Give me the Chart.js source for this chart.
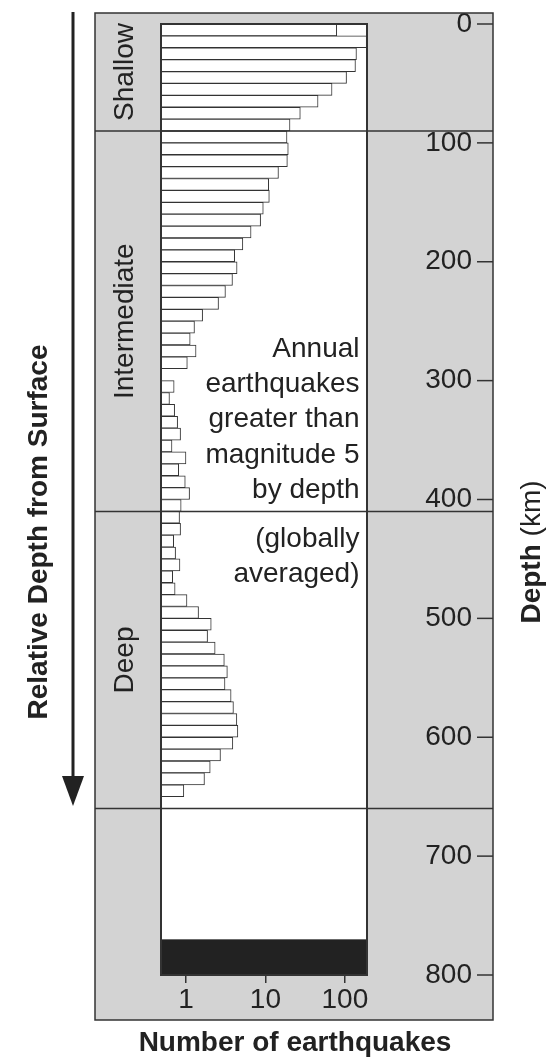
<!DOCTYPE html>
<html>
<head>
<meta charset="utf-8">
<script src="https://cdn.jsdelivr.net/npm/chart.js@4.4.1/dist/chart.umd.min.js"></script>
<style>
  html, body { margin: 0; padding: 0; background: #fff; }
  #wrap { width: 550px; height: 1057px; position: relative; }
</style>
</head>
<body>
<div id="wrap"><canvas id="myChart"></canvas></div>
<script>
// depth bins (top of each 10 km bin), the 290 km bin has no bar
const BIN_TOPS = [
  0, 10, 20, 30, 40, 50, 60, 70, 80,
  90, 100, 110, 120, 130, 140, 150, 160, 170, 180, 190, 200, 210, 220, 230,
  240, 250, 260, 270, 280, 300, 310, 320, 330, 340, 350, 360, 370, 380, 390, 400,
  410, 420, 430, 440, 450, 460, 470, 480, 490, 500, 510, 520, 530, 540, 550,
  560, 570, 580, 590, 600, 610, 620, 630, 640
];
const COUNTS = [
  79, 188, 140, 136, 105, 69, 46, 27.5, 20.4,
  18.7, 19.4, 18.9, 14.6, 11.0, 11.2, 9.4, 8.7, 6.6, 5.2, 4.1, 4.4, 3.85, 3.14, 2.57,
  1.62, 1.28, 1.13, 1.34, 1.04, 0.71, 0.62, 0.72, 0.785, 0.855, 0.667, 1.0, 0.81, 0.98, 1.11, 0.87,
  0.83, 0.855, 0.70, 0.74, 0.84, 0.68, 0.73, 1.03, 1.44, 2.08, 1.87, 2.33, 3.04, 3.32, 3.10,
  3.70, 3.96, 4.37, 4.50, 3.89, 2.72, 2.02, 1.71, 0.94
];
const BIN_SIZE = 10;
const DEPTH_TICKS = [0, 100, 200, 300, 400, 500, 600, 700, 800];
const COUNT_TICKS = [1, 10, 100];
const ZONE_NAMES = ["Shallow", "Intermediate", "Deep"];
const ZONE_EDGES = [0, 90, 410, 660];
const NO_DATA_BAND = [770, 800];
const NOTE = ["Annual", "earthquakes", "greater than", "magnitude 5", "by depth"];
const NOTE2 = ["(globally", "averaged)"];

const FONT = '"Liberation Sans", Arial, Helvetica, sans-serif';
const INK = "#222";
const LINE = "#333";
const PANEL = "#d3d3d3";
const BOX = { left: 95, top: 13, right: 493, bottom: 1020 };

Chart.defaults.font.family = FONT;
Chart.defaults.color = INK;

function seg(ctx, x1, y1, x2, y2) {
  ctx.beginPath();
  ctx.moveTo(x1, y1);
  ctx.lineTo(x2, y2);
  ctx.stroke();
}

function vtext(ctx, text, x, y, font) {
  ctx.save();
  ctx.translate(x, y);
  ctx.rotate(-Math.PI / 2);
  ctx.font = font;
  ctx.textAlign = "center";
  ctx.textBaseline = "alphabetic";
  ctx.fillText(text, 0, 0);
  ctx.restore();
}

const frame = {
  id: "frame",
  beforeDraw(chart) {
    const { ctx, chartArea: a } = chart;
    ctx.save();
    ctx.fillStyle = PANEL;
    ctx.fillRect(BOX.left, BOX.top, BOX.right - BOX.left, BOX.bottom - BOX.top);
    ctx.fillStyle = "#fff";
    ctx.fillRect(a.left, a.top, a.right - a.left, a.bottom - a.top);
    ctx.restore();
  },
  afterDraw(chart) {
    const { ctx, chartArea: a, scales: { y } } = chart;
    ctx.save();

    // no-data band at the bottom
    const b0 = y.getPixelForValue(NO_DATA_BAND[0]);
    const b1 = y.getPixelForValue(NO_DATA_BAND[1]);
    ctx.fillStyle = INK;
    ctx.fillRect(a.left, b0, a.right - a.left, b1 - b0);

    // zone separators across the whole panel
    ctx.strokeStyle = LINE;
    ctx.lineWidth = 1.5;
    ZONE_EDGES.slice(1).forEach(d => {
      const py = y.getPixelForValue(d);
      seg(ctx, BOX.left, py, BOX.right, py);
    });

    ctx.lineWidth = 2;
    ctx.strokeRect(a.left, a.top, a.right - a.left, a.bottom - a.top);
    ctx.lineWidth = 1.5;
    ctx.strokeRect(BOX.left, BOX.top, BOX.right - BOX.left, BOX.bottom - BOX.top);

    // depth tick marks on the outer edge
    y.ticks.forEach(t => {
      const py = y.getPixelForValue(t.value);
      seg(ctx, BOX.right - 16, py, BOX.right, py);
    });

    ctx.fillStyle = INK;
    // zone names
    ZONE_NAMES.forEach((name, i) => {
      const top = i === 0 ? BOX.top : y.getPixelForValue(ZONE_EDGES[i]);
      const bot = y.getPixelForValue(ZONE_EDGES[i + 1]);
      vtext(ctx, name, 132.5, (top + bot) / 2, "28px " + FONT);
    });

    // note
    ctx.font = "28px " + FONT;
    ctx.textAlign = "right";
    ctx.textBaseline = "alphabetic";
    NOTE.forEach((s, i) => ctx.fillText(s, 359.5, 356.7 + i * 35.3));
    NOTE2.forEach((s, i) => ctx.fillText(s, 359.5, 546.7 + i * 35.3));

    // titles
    ctx.font = "bold 28px " + FONT;
    ctx.textAlign = "center";
    ctx.fillText("Number of earthquakes", 295, 1051);
    vtext(ctx, "Relative Depth from Surface", 47, 532, "bold 28px " + FONT);

    ctx.save();
    ctx.translate(540, 552);
    ctx.rotate(-Math.PI / 2);
    ctx.textAlign = "left";
    ctx.font = "bold 28px " + FONT;
    const w1 = ctx.measureText("Depth").width;
    ctx.font = "28px " + FONT;
    const w2 = ctx.measureText(" (km)").width;
    const x0 = -(w1 + w2) / 2;
    ctx.font = "bold 28px " + FONT;
    ctx.fillText("Depth", x0, 0);
    ctx.font = "28px " + FONT;
    ctx.fillText(" (km)", x0 + w1, 0);
    ctx.restore();

    // arrow
    ctx.strokeStyle = INK;
    ctx.lineWidth = 3;
    seg(ctx, 73, 12, 73, 780);
    ctx.beginPath();
    ctx.moveTo(62, 776);
    ctx.lineTo(84, 776);
    ctx.lineTo(73, 806);
    ctx.closePath();
    ctx.fill();

    ctx.restore();
  }
};

const data = {
  datasets: [{
    data: BIN_TOPS.map((d, i) => ({ x: COUNTS[i], y: d + BIN_SIZE / 2 })),
    backgroundColor: "#fff",
    borderColor: LINE,
    borderWidth: 1,
    barPercentage: 1,
    categoryPercentage: 1
  }]
};

const config = {
  type: "bar",
  data: data,
  options: {
    indexAxis: "y",
    responsive: true,
    maintainAspectRatio: false,
    animation: false,
    events: [],
    layout: { padding: { left: 161, right: 78, top: 24, bottom: 0 } },
    plugins: {
      legend: { display: false },
      tooltip: { enabled: false }
    },
    scales: {
      x: {
        type: "logarithmic",
        position: "bottom",
        min: 0.485,
        max: 190,
        afterBuildTicks: s => { s.ticks = COUNT_TICKS.map(v => ({ value: v })); },
        afterFit: s => { s.height = 82; },
        grid: { drawOnChartArea: false, color: LINE, lineWidth: 1.5, tickLength: 8 },
        border: { display: false },
        ticks: {
          color: INK,
          font: { size: 28 },
          padding: 0,
          maxRotation: 0,
          autoSkip: false,
          callback: v => String(v)
        }
      },
      y: {
        type: "linear",
        position: "right",
        reverse: true,
        min: 0,
        max: 800,
        offset: false,
        afterBuildTicks: s => { s.ticks = DEPTH_TICKS.map(v => ({ value: v })); },
        afterFit: s => { s.width = 105; },
        grid: { display: false, drawTicks: false, offset: false },
        border: { display: false },
        ticks: { crossAlign: "far", padding: 0, color: INK, font: { size: 28 } }
      }
    }
  },
  plugins: [frame]
};

const ctx = document.getElementById("myChart");
const myChart = new Chart(ctx, config);
</script>
</body>
</html>
